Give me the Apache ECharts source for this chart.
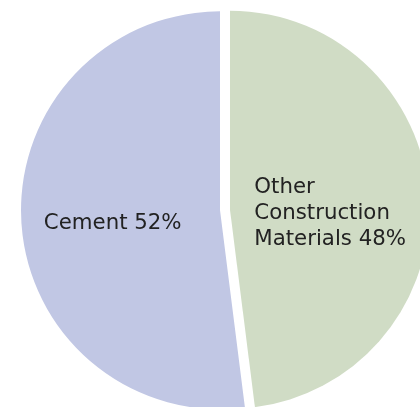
<!DOCTYPE html>
<html>
<head>
<meta charset="utf-8">
<script src="https://cdn.jsdelivr.net/npm/echarts@6/dist/echarts.min.js"></script>
<style>html,body{margin:0;padding:0;background:#fff}#c{width:420px;height:407px}</style>
</head>
<body>
<div id="c"></div>
<script>
const categories = ['Other\nConstruction\nMaterials', 'Cement'];
const values = [48, 52];
const colors = ['#d0dcc5', '#c1c7e4'];

const chart = echarts.init(document.getElementById('c'), null, {renderer: 'canvas'});
chart.setOption({
  animation: false,
  series: [{
    type: 'pie',
    center: [225, 210],
    radius: [0, 199],
    startAngle: 90,
    clockwise: true,
    selectedMode: 'multiple',
    selectedOffset: 5,
    emphasis: {disabled: true},
    labelLine: {show: false},
    label: {
      show: true,
      position: 'inside',
      formatter: '{b} {c}%',
      fontFamily: 'DejaVu Sans',
      fontSize: 21.3,
      lineHeight: 26,
      color: '#222'
    },
    labelLayout: function (p) {
      if (p.dataIndex === 0) return {dx: -78, dy: 10, align: 'left'};
      return {dx: -5, dy: 7};
    },
    data: categories.map((c, i) => ({
      name: c, value: values[i], selected: true,
      itemStyle: {color: colors[i]}
    }))
  }]
});
</script>
</body>
</html>
